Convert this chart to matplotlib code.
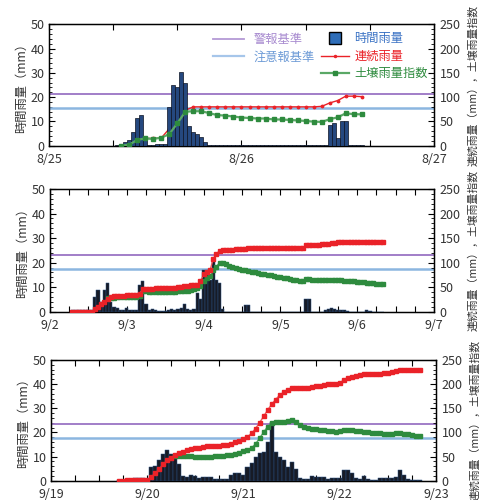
import numpy as np
import matplotlib
matplotlib.use('Agg')
import matplotlib.pyplot as plt
from matplotlib.lines import Line2D
from matplotlib.ticker import MultipleLocator

plt.rcParams['font.family'] = ['Noto Sans CJK JP', 'DejaVu Sans']

# ---------------- Panel 1 : 8/25 - 8/27 ----------------
p1_days = ['8/25', '8/26', '8/27']
p1_rain_start = 8.5      # hour of first bar (half-hour bars)
p1_rain = [0.2,
           0.5, 1.6, 2.3, 5.8, 11.5, 12.6, 3.0, 0.3, 0.4, 0.5, 0.5, 0.5,
           16, 25, 24, 30.5, 26, 8, 5.5, 5, 3.4, 1.6, 0.3,
           0.2, 0.2, 0.2, 0.2, 0.2, 0.2, 0.2, 0.2, 0.2, 0.2, 0.2, 0.2, 0.2, 0.2, 0.2,
           0.2, 0.2, 0.2, 0.2, 0.2, 0.2, 0.2, 0.2, 0.2, 0.2, 0.2, 0.2, 0.2, 0.2,
           8.5, 9.5, 3, 10.2, 10.2,
           0.2, 0.2, 0.2, 0.2]
p1_red_start = 9
p1_red = [0, 2, 12, 15, 15, 16, 35, 60, 73,
          80, 80, 80, 80, 80, 80, 80, 80, 80, 80, 80, 80, 80, 80, 80, 80, 81,
          88, 93, 102, 102, 101]
p1_green_start = 9
p1_green = [0, 2, 12, 15, 14, 16.5, 24, 46, 70, 71, 71, 67, 63, 62, 60, 58, 57,
            56, 56, 54, 54, 53, 52, 51, 49.5, 49, 54.5, 58.5, 66.7, 65, 64.5]
p1_warn, p1_adv = 21.2, 15.6

# ---------------- Panel 2 : 9/2 - 9/7 ----------------
p2_days = ['9/2', '9/3', '9/4', '9/5', '9/6', '9/7']
p2_rain_start = 7
p2_rain = [0.5, 0.5, 0.5, 0.5, 0.5, 0.5, 0.5,
           6, 8.8, 4, 9, 11.8, 4, 2, 1.5, 0.8, 0.8, 1.5, 0.5, 0.5, 0.5,
           10.8, 12.6, 3, 0.5, 1, 0.5, 0.3, 0.3, 0.3, 0.5, 1, 0.8, 1, 1.5, 3, 1,
           0.8, 1, 7.5, 5, 17, 17, 13, 20.8, 13, 11.7, 1,
           0, 0, 0, 0, 0, 0, 2.8, 2.8,
           0, 0, 0, 0, 0, 0, 0, 0, 0, 0, 0, 0, 0, 0, 0, 0, 0,
           5.3, 5.3, 0, 0, 0, 0,
           0.8, 1, 1.5, 1.2, 0.8, 0.5, 0.5, 0.3,
           0, 0, 0, 0, 0, 0.5, 0.3, 0, 0, 0, 0]
p2_red_start = 7
p2_red = [0, 0, 0, 0, 0, 0, 0,
          5, 9, 15, 20, 26, 30, 32, 32.5, 33, 33, 33.5, 34, 34.5, 35, 37, 45.5,
          46, 47, 47, 47.5, 47.5, 48, 48, 48, 48.5, 49, 50, 51, 52, 53, 53.5, 54,
          55, 62, 76, 81.5, 84, 108, 118, 124, 126, 126, 126, 126, 127, 127, 128, 128,
          130, 130, 130, 130, 130, 130, 130, 130, 130, 130, 130, 130, 130, 130, 130,
          130, 130, 130,
          135, 136, 136, 136, 136, 137, 138, 138, 139, 140, 141,
          141, 141, 141, 141, 141, 141, 141, 141, 141, 141, 141, 141, 141, 141]
p2_green_start = 18
p2_green = [27, 28, 28.5, 29, 29.5, 29.5, 30, 30, 30, 30.5, 31, 43, 42, 41, 40.5,
            40, 39.5, 39.5, 39.5, 40, 40.5, 41, 41.5, 42, 42.5, 43, 44, 46, 48,
            52, 62, 68, 72, 84, 92, 100, 99, 97, 94, 91, 89, 87, 85, 84, 82.5, 81,
            80, 79, 77, 76, 75, 74, 72.5, 71.5, 70, 69, 68, 67, 65.5, 64.5, 63.5,
            62, 67, 66, 65.5, 65, 64.5, 64, 64, 64.5, 64.5, 64.5, 64.5, 64, 63.5,
            63, 62.5, 62, 61, 60.5, 60, 59, 58.5, 57.5, 57, 56.5, 56]
p2_warn, p2_adv = 23.2, 17.5

# ---------------- Panel 3 : 9/19 - 9/23 ----------------
p3_days = ['9/19', '9/20', '9/21', '9/22', '9/23']
p3_rain_start = 17
p3_rain = [0.3, 0.3, 0.5, 0.8, 1, 1, 1, 0.8, 5.8, 6, 8.6, 11, 12.7, 11, 9.5, 7,
           2, 1.5, 2.5, 2, 1, 1.4, 1.4, 1.4, 0.8, 0.6, 0.6, 0.6, 2.5, 3.3, 3,
           2.5, 5.8, 7.2, 10, 11.5, 12, 16, 24.4, 12, 10, 8.6, 5.8, 7.6, 5, 1,
           0.6, 0.6, 2, 1.4, 1.4, 1.4, 0.6, 1, 1, 1, 4.4, 4.4, 3, 1, 0.6, 2,
           0.6, 0.4, 0.4, 1, 1, 1, 1, 1.6, 4.4, 2.5, 0.6, 0.4, 0.2, 0.2]
p3_red_start = 17
p3_red = [0, 0, 1, 1, 1, 2, 2, 2, 8, 15, 24, 34, 42, 48, 53, 57, 60, 63, 65, 67,
          68, 70, 71, 72, 72, 72.5, 73, 73.5, 77, 80, 83, 86, 91, 98, 108, 120,
          133, 146, 158, 168, 177, 183, 188, 191, 191, 191, 192, 193, 194, 196,
          197, 199, 200, 200, 201, 203, 208, 212, 215, 217, 219, 220, 220, 220,
          221, 222, 224, 224, 225, 227, 230, 230, 230, 230, 230, 230]
p3_green_start = 31
p3_green = [51, 51, 51, 50.5, 50.5, 50, 50, 50, 50, 50, 50.5, 51, 52, 53, 54, 56,
            58, 61, 64, 68, 76, 88, 100, 112, 119, 121, 122, 122, 123, 125, 121,
            116, 112, 110, 108, 107, 105, 104, 103, 102, 101.5, 103, 105, 105,
            104, 103.5, 102, 101.5, 100, 99.5, 99.5, 98, 97.5, 96, 97, 99, 99,
            97, 96, 95, 93, 92]
p3_warn, p3_adv = 23.4, 17.6

# ---------------- styling ----------------
C_WARN = '#9a74c4'
C_ADV = '#8cb6e0'
C_RED = '#ea2228'
C_GREEN_LINE = '#5aa866'
C_GREEN = '#2e8b3e'
C_TXT = '#333333'

fig = plt.figure(figsize=(4.88, 5.0), dpi=100)


def panel(rect, days, tick_step, rain_start, rain_step, rain, red_start, red,
          green_start, green, warn, adv, first=False):
    ax = fig.add_axes(rect)
    ax2 = ax.twinx()
    total = 24 * (len(days) - 1)
    ax.set_xlim(0, total)
    ax.set_ylim(0, 50)
    ax2.set_ylim(0, 250)

    rx = rain_start + rain_step * np.arange(len(rain))
    if first:
        ax.bar(rx, rain, width=rain_step, color='#25487f', edgecolor='#0c1222',
               linewidth=0.5, zorder=3)
    else:
        ax.bar(rx, rain, width=rain_step, color='#171b26', edgecolor='#2a4f80',
               linewidth=0.35, zorder=3)

    ax.axhline(warn, color=C_WARN, lw=1.3, zorder=2)
    ax.axhline(adv, color=C_ADV, lw=1.8, zorder=2)

    redx = red_start + np.arange(len(red))
    grx = green_start + np.arange(len(green))
    if first:
        # red drawn beneath the bars in this panel
        ax.plot(redx, red, color=C_RED, lw=1.0, marker='.', ms=3.5,
                transform=ax2.transData, zorder=2.5)
        ax2.plot(grx, green, color=C_GREEN_LINE, lw=1.6, marker='s', ms=3.5,
                 mfc=C_GREEN, mec=C_GREEN, zorder=4)
    else:
        ax2.plot(grx, green, color=C_GREEN_LINE, lw=1.0, marker='s', ms=2.3,
                 mfc=C_GREEN, mec=C_GREEN, zorder=4)
        ax2.plot(redx, red, color='#f05a5a', lw=1.0, marker='s', ms=3.3,
                 mfc=C_RED, mec=C_RED, zorder=5)

    # ticks
    ticks = np.arange(0, total + 0.1, tick_step)
    lbls = [days[int(round(t / 24))] if abs(t % 24) < 1e-6 else '' for t in ticks]
    ax.set_xticks(ticks)
    ax.set_xticklabels(lbls)
    ax.yaxis.set_major_locator(MultipleLocator(10))
    ax.yaxis.set_minor_locator(MultipleLocator(2))
    ax2.yaxis.set_major_locator(MultipleLocator(50))
    ax2.yaxis.set_minor_locator(MultipleLocator(10))
    for a in (ax, ax2):
        a.tick_params(axis='both', which='both', direction='in', colors='black',
                      labelcolor=C_TXT, labelsize=9)
        a.tick_params(which='major', length=4, width=0.8)
        a.tick_params(which='minor', length=2, width=0.6)
    ax.tick_params(axis='x', top=True, pad=5)
    ax2.tick_params(axis='y', pad=4)
    ax.tick_params(axis='y', pad=3)
    for s in ax.spines.values():
        s.set_linewidth(1.0)
    ax.set_ylabel('時間雨量（mm）', fontsize=8.8, color=C_TXT, labelpad=2)
    ax2.set_ylabel('連続雨量（mm），土壌雨量指数', fontsize=7.8, color=C_TXT,
                   labelpad=5)
    return ax, ax2


ax1, ax1b = panel([0.1004, 0.7086, 0.7889, 0.2428], p1_days, 8,
                  p1_rain_start, 0.5, p1_rain, p1_red_start, p1_red,
                  p1_green_start, p1_green, p1_warn, p1_adv, first=True)
ax2_, ax2b = panel([0.1025, 0.3766, 0.7869, 0.2454], p2_days, 6,
                   p2_rain_start, 1.0, p2_rain, p2_red_start, p2_red,
                   p2_green_start, p2_green, p2_warn, p2_adv)
ax3, ax3b = panel([0.1045, 0.0386, 0.7889, 0.2414], p3_days, 6,
                  p3_rain_start, 1.0, p3_rain, p3_red_start, p3_red,
                  p3_green_start, p3_green, p3_warn, p3_adv)

# ---------------- legend (panel 1) ----------------
h_warn = Line2D([], [], color='#b49ad6', lw=1.3)
h_adv = Line2D([], [], color='#a6c6ea', lw=1.6)
leg1 = ax1b.legend([h_warn, h_adv], ['警報基準', '注意報基準'],
                   loc='upper left', bbox_to_anchor=(0.426, 0.93),
                   frameon=False, fontsize=8.8, handlelength=2.5,
                   handletextpad=0.8, labelspacing=0.4, borderpad=0,
                   borderaxespad=0, labelcolor=['#a88bd0', '#6c9ad6'])
ax1b.add_artist(leg1)
h_rain = Line2D([], [], ls='none', marker='s', ms=8, mfc='#2e6db8', mec='black',
                mew=1.0)
h_red = Line2D([], [], color=C_RED, lw=1.0, marker='.', ms=3)
h_green = Line2D([], [], color=C_GREEN_LINE, lw=1.6, marker='s', ms=3.5,
                 mfc=C_GREEN, mec=C_GREEN)
leg2 = ax1b.legend([h_rain, h_red, h_green], ['時間雨量', '連続雨量', '土壌雨量指数'],
                   loc='upper left', bbox_to_anchor=(0.706, 0.935),
                   frameon=False, fontsize=8.8, handlelength=2.3,
                   handletextpad=0.45, labelspacing=0.38, borderpad=0,
                   borderaxespad=0,
                   labelcolor=['#3a72c4', C_RED, C_GREEN])

fig.savefig('out.png', dpi=100)
